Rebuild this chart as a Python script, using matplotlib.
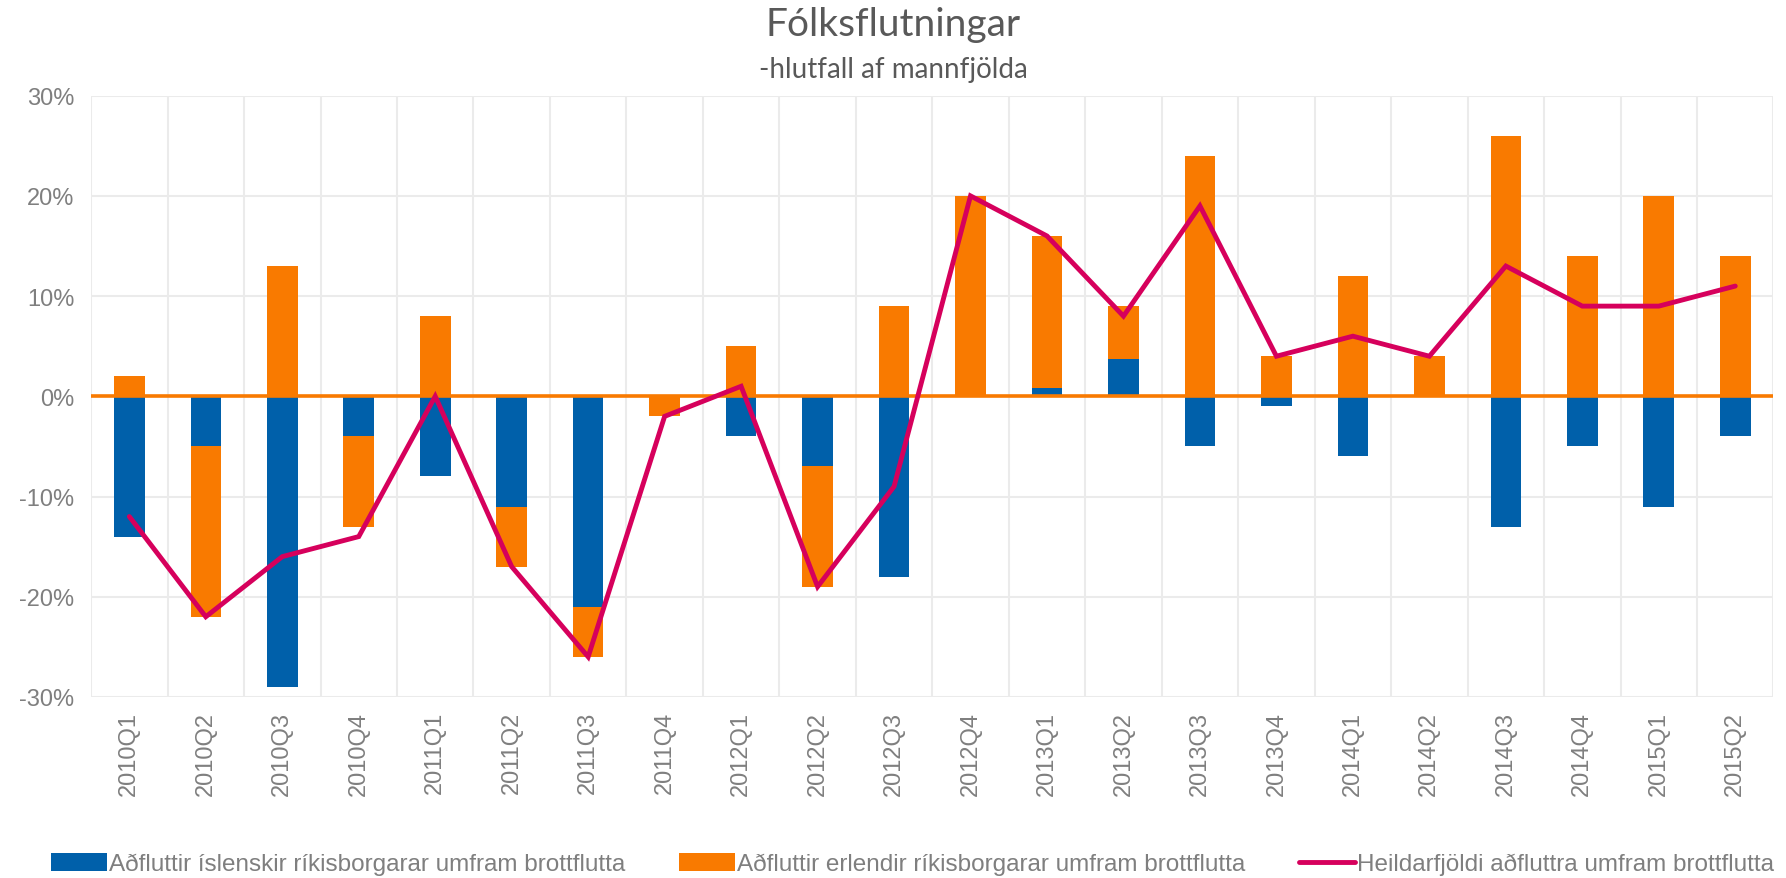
import matplotlib.pyplot as plt
import numpy as np

# Fólksflutningar - hlutfall af mannfjölda (%)
quarters = ['2010Q1', '2010Q2', '2010Q3', '2010Q4',
            '2011Q1', '2011Q2', '2011Q3', '2011Q4',
            '2012Q1', '2012Q2', '2012Q3', '2012Q4',
            '2013Q1', '2013Q2', '2013Q3', '2013Q4',
            '2014Q1', '2014Q2', '2014Q3', '2014Q4',
            '2015Q1', '2015Q2']
islenskir = [-14, -5, -29, -4, -8, -11, -21, 0, -4, -7, -18, 0,
             0.8, 3.7, -5, -1, -6, 0, -13, -5, -11, -4]
erlendir = [2, -17, 13, -9, 8, -6, -5, -2, 5, -12, 9, 20,
            15.2, 5.3, 24, 4, 12, 4, 26, 14, 20, 14]
heild = [-12, -22, -16, -14, 0, -17, -26, -2, 1, -19, -9, 20,
         16, 8, 19, 4, 6, 4, 13, 9, 9, 11]
yticks = [-30, -20, -10, 0, 10, 20, 30]

labels = ['Aðfluttir íslenskir ríkisborgarar umfram brottflutta',
          'Aðfluttir erlendir ríkisborgarar umfram brottflutta',
          'Heildarfjöldi aðfluttra umfram brottflutta']

blue = '#0060AA'
orange = '#F97A00'
magenta = '#D6005C'
grey = '#7F7F7F'

plt.rcParams['font.family'] = ['Liberation Sans', 'DejaVu Sans']

x = np.arange(len(quarters))
isl = np.array(islenskir)
erl = np.array(erlendir)
# excel-style stacking: positives on positives, negatives on negatives
erl_bottom = np.where(erl >= 0, np.clip(isl, 0, None), np.clip(isl, None, 0))

fig = plt.figure(figsize=(17.86, 8.79), dpi=100)
ax = fig.add_axes([0.051, 0.206, 0.942, 0.684])

b1 = ax.bar(x, isl, 0.4, color=blue, zorder=2)
b2 = ax.bar(x, erl, 0.4, bottom=erl_bottom, color=orange, zorder=2)
ax.axhline(0, color=orange, lw=2.6, zorder=3)
l1, = ax.plot(x, heild, color=magenta, lw=3.5, zorder=4,
              solid_capstyle='round', solid_joinstyle='miter')

ax.set_xlim(-0.5, len(quarters) - 0.5)
ax.set_ylim(-30, 30)
ax.set_yticks(yticks)
ax.set_yticklabels(['%d%%' % v for v in yticks])
ax.set_xticks(x)
ax.set_xticklabels(quarters, rotation=90)
ax.set_xticks(np.arange(len(quarters) + 1) - 0.5, minor=True)
ax.tick_params(which='both', length=0, labelsize=17, colors=grey)
ax.tick_params(axis='x', pad=10)
ax.tick_params(axis='y', pad=12)
ax.grid(axis='y', which='major', color='#EBEBEB', lw=1.5, zorder=0)
ax.grid(axis='x', which='minor', color='#EBEBEB', lw=1.5, zorder=0)
ax.grid(axis='x', which='major', visible=False)
for s in ax.spines.values():
    s.set_visible(False)

fig.text(0.5, 0.972, 'Fólksflutningar', ha='center', va='center',
         fontsize=28, color='#595959', family='Lato')
fig.text(0.5, 0.92, '-hlutfall af mannfjölda', ha='center', va='center',
         fontsize=20, color='#595959', family='Lato')

fig.legend([b1, b2, l1], labels, loc='lower center', ncol=3,
           bbox_to_anchor=(0.511, -0.022), frameon=False, fontsize=17.5,
           labelcolor=grey, handlelength=2.3, handleheight=0.8,
           handletextpad=0.1, columnspacing=2.2)

fig.savefig('out.png', dpi=100)
